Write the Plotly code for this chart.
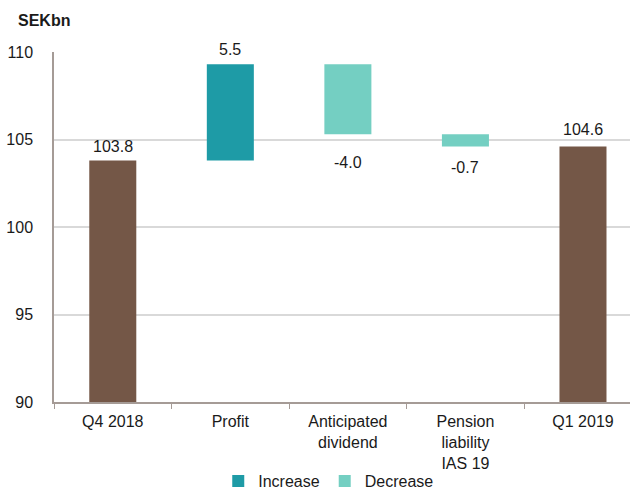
import plotly.graph_objects as go

categories = ["Q4 2018", "Profit", "Anticipated<br>dividend", "Pension<br>liability<br>IAS 19", "Q1 2019"]
kinds = ["total", "increase", "decrease", "decrease", "total"]
values = [103.8, 5.5, -4.0, -0.7, 104.6]
labels = ["103.8", "5.5", "-4.0", "-0.7", "104.6"]
label_shift = [14, 15, -28, -21, 17]

BROWN = "#745747"
INC = "#1e9ba6"
DEC = "#74cfc2"
FONT = "Liberation Sans, Arial, sans-serif"
FS = 16

# compute floating bars
bases, heights, running = [], [], 0.0
for k, v in zip(kinds, values):
    if k == "total":
        bases.append(0.0); heights.append(v); running = v
    else:
        bases.append(running); heights.append(v); running += v

fig = go.Figure()
tot_idx = [i for i, k in enumerate(kinds) if k == "total"]
inc_idx = [i for i, k in enumerate(kinds) if k == "increase"]
dec_idx = [i for i, k in enumerate(kinds) if k == "decrease"]

fig.add_trace(go.Bar(x=[categories[i] for i in tot_idx], y=[heights[i] for i in tot_idx],
                     base=[bases[i] for i in tot_idx], marker=dict(color=BROWN, line=dict(width=0)),
                     width=0.4, showlegend=False, name="Total"))
fig.add_trace(go.Bar(x=[categories[i] for i in inc_idx], y=[heights[i] for i in inc_idx],
                     base=[bases[i] for i in inc_idx], marker=dict(color=INC, line=dict(width=0)),
                     width=0.4, name="Increase"))
fig.add_trace(go.Bar(x=[categories[i] for i in dec_idx], y=[heights[i] for i in dec_idx],
                     base=[bases[i] for i in dec_idx], marker=dict(color=DEC, line=dict(width=0)),
                     width=0.4, name="Decrease"))

annotations = []
for i, c in enumerate(categories):
    end = bases[i] + heights[i]
    annotations.append(dict(x=c, y=end, xref="x", yref="y", text=labels[i], showarrow=False,
                            yanchor="middle", yshift=label_shift[i],
                            font=dict(family=FONT, size=FS, color="#1a1a1a")))
annotations.append(dict(x=-(54 - 16) / 576, y=1 + 31.7 / 349.6, xref="paper", yref="paper",
                        text="<b>SEKbn</b>", showarrow=False, xanchor="left", yanchor="middle",
                        font=dict(family=FONT, size=FS, color="#1a1a1a")))

fig.update_layout(
    width=630, height=491,
    margin=dict(l=54, r=0, t=52, b=89, autoexpand=False),
    plot_bgcolor="white", paper_bgcolor="white",
    barmode="overlay",
    font=dict(family=FONT, size=FS, color="#1a1a1a"),
    annotations=annotations,
    legend=dict(orientation="h", x=0.477, xanchor="center",
                y=-0.226, yanchor="middle",
                font=dict(family=FONT, size=FS, color="#1a1a1a"),
                traceorder="normal"),
    xaxis=dict(type="category", categoryorder="array", categoryarray=categories,
               range=[-0.5, 4.4], showline=True, linecolor="#a59b96", linewidth=1.5,
               ticks="outside", tickson="boundaries", ticklen=5, tickcolor="#a59b96",
               showgrid=False, automargin=False, ticklabelstandoff=4,
               tickfont=dict(family=FONT, size=FS, color="#1a1a1a")),
    yaxis=dict(range=[90, 110], dtick=5, showgrid=True, gridcolor="#d9d9d9", gridwidth=1.5,
               showline=True, linecolor="#a59b96", linewidth=1.5, zeroline=False,
               ticks="", ticklabelstandoff=16, automargin=False,
               tickfont=dict(family=FONT, size=FS, color="#1a1a1a")),
)

fig.write_html("out.html")
